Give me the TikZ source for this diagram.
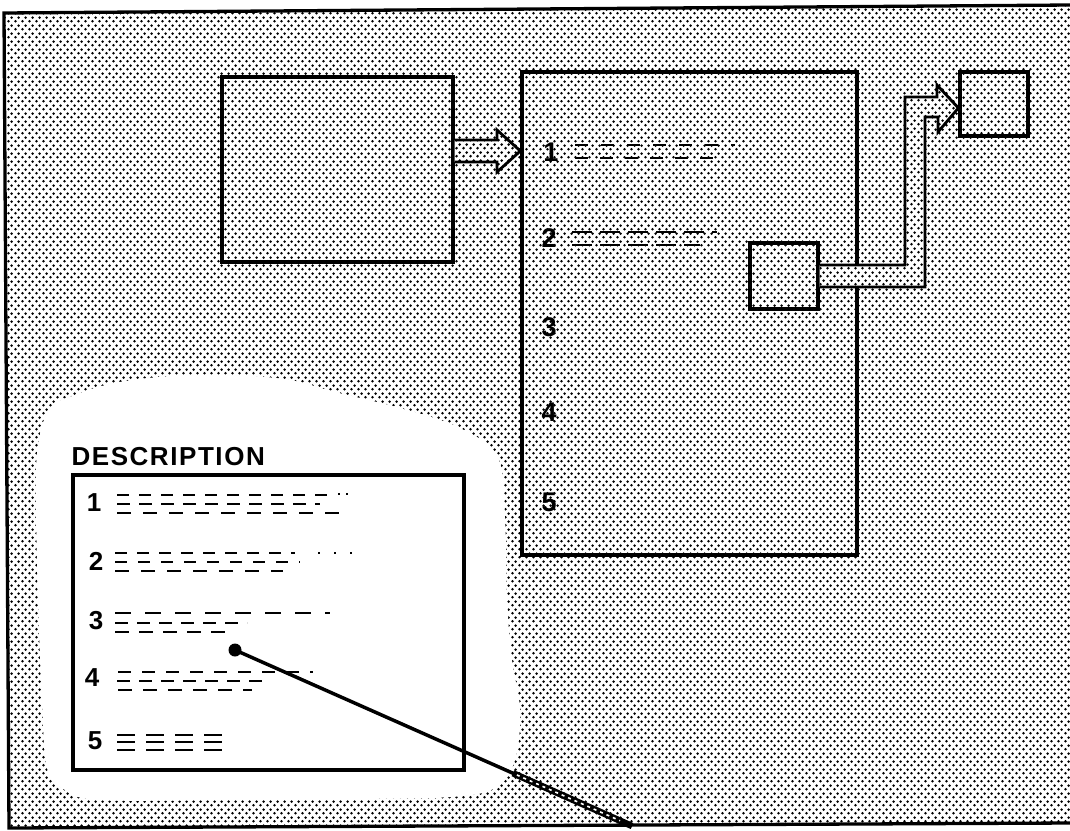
\documentclass[tikz,border=0pt]{standalone}
\usepackage{fontspec}
\setmainfont{Liberation Sans}
\newfontfamily\descfont[LetterSpace=6]{Liberation Sans}
\usetikzlibrary{patterns.meta,calc}

\tikzdeclarepattern{
  name=hdots,
  type=uncolored,
  bounding box={(0pt,0pt) and (7pt,8pt)},
  tile size={(7pt,8pt)},
  code={
    \fill (1.75pt,2pt) circle (1.6pt);
    \fill (5.25pt,6pt) circle (1.6pt);
  }
}

\begin{document}
\begin{tikzpicture}[x=1pt,y=-1pt,
  box/.style={draw=black, line width=3.3pt, inner sep=0pt},
  dotted fill/.style={pattern=hdots, pattern color=black},
  blockarrow/.style={draw=black, line width=2.8pt, line join=miter, preaction={fill=white}, pattern=hdots, pattern color=black},
  dr/.style={line width=2.7pt, black},
  bignum/.style={font=\fontsize{27}{27}\selectfont\bfseries, inner sep=0pt},
  descnum/.style={font=\fontsize{26}{26}\selectfont\bfseries, inner sep=0pt},
]
\useasboundingbox (0,0) rectangle (1070,830);

% background halftone
\fill[white] (0,0) rectangle (1070,830);
\fill[dotted fill] (4,13) -- (1070,5) -- (1070,823) -- (9,828) -- cycle;
\draw[line width=3.3pt, line join=miter] (1070,5) -- (4,13) -- (9,828) -- (1070,823);

% white cloud
\fill[white] plot[smooth cycle, tension=0.6] coordinates {
 (50,408) (75,395) (110,384) (160,377) (230,375) (290,380) (335,392) (400,408)
 (460,428) (498,458) (505,520) (507,600) (512,660) (520,710) (515,760) (495,788)
 (450,797) (350,799) (220,800) (100,800) (65,790) (47,768) (42,700) (38,600)
 (36,500) (38,445)};

% boxes
\node[box, minimum width=231pt, minimum height=185pt] (A) at (337.5,169.5) {};
\node[box, minimum width=335pt, minimum height=483pt] (B) at (689.5,313.5) {};
\node[box, minimum width=68pt, minimum height=66pt] (C) at (784,276) {};
\node[box, minimum width=68pt, minimum height=64pt] (D) at (994,104) {};

% block arrow A -> B
\path[blockarrow] (A.east |- 0,140) -- (497,140) -- (497,130) -- (B.west |- 0,151)
  -- (497,172) -- (497,162) -- (A.east |- 0,162);

% bent block arrow C -> D
\path[blockarrow] (C.east |- 0,265) -- (905,265) -- (905,97) -- (937,97) -- (937,85)
  -- (D.west |- 0,108) -- (938,132) -- (938,117) -- (925,117) -- (925,287) -- (C.east |- 0,287);

% list in the big box
\node[bignum] (b1) at (551,152) {1};
\node[bignum] (b2) at (549,238) {2};
\node[bignum] (b3) at (549,327) {3};
\node[bignum] (b4) at (549,412) {4};
\node[bignum] (b5) at (549,502) {5};
\draw[dr, dash pattern=on 13pt off 13pt] (575,145) -- (735,145);
\draw[dr, dash pattern=on 13pt off 12pt] (575,158) -- (720,158);
\draw[dr, dash pattern=on 20pt off 8pt] (572,232) -- (717,232);
\draw[dr, dash pattern=on 20pt off 8pt] (572,245) -- (700,245);

% description box
\node[box, fill=white, minimum width=391pt, minimum height=295pt] (E) at (268.5,622.5) {};
\node[anchor=base west, inner sep=0pt, font=\descfont\fontsize{26}{26}\selectfont\bfseries]
  (lbl) at (E.north west |- 0,465) {DESCRIPTION};

\node[descnum] (d1) at (94,503) {1};
\node[descnum] (d2) at (96,561) {2};
\node[descnum] (d3) at (96,621) {3};
\node[descnum] (d4) at (92,678) {4};
\node[descnum] (d5) at (95,741) {5};

% item 1
\draw[dr, dash pattern=on 12pt off 10pt] (117,495) -- (330,495);
\draw[dr, dash pattern=on 2pt off 6pt] (338,494) -- (350,494);
\draw[dr, dash pattern=on 13pt off 9pt] (117,504) -- (320,504);
\draw[dr, dash pattern=on 14pt off 12pt] (117,513) -- (347,513);
% item 2
\draw[dr, dash pattern=on 12pt off 10pt] (115,553) -- (295,553);
\draw[dr, dash pattern=on 2pt off 14pt] (318,553) -- (365,553);
\draw[dr, dash pattern=on 12pt off 11pt] (115,562) -- (300,562);
\draw[dr, dash pattern=on 14pt off 12pt] (115,571) -- (283,571);
% item 3
\draw[dr, dash pattern=on 16pt off 14pt] (115,613) -- (330,613);
\draw[dr, dash pattern=on 13pt off 9pt] (115,623) -- (247,623);
\draw[dr, dash pattern=on 14pt off 10pt] (115,632) -- (230,632);
% item 4
\draw[dr, dash pattern=on 13pt off 11pt] (118,672) -- (313,672);
\draw[dr, dash pattern=on 13pt off 9pt] (117,681) -- (268,681);
\draw[dr, dash pattern=on 14pt off 11pt] (118,690) -- (252,690);
% item 5
\draw[dr, dash pattern=on 18pt off 11pt] (117,735) -- (227,735);
\draw[dr, dash pattern=on 18pt off 11pt] (117,742) -- (227,742);
\draw[dr, dash pattern=on 18pt off 11pt] (117,750) -- (227,750);

% pointer
\node[circle, fill=black, inner sep=0pt, minimum size=13pt] (pt) at (235,650) {};
\coordinate (tip) at (632,826);
\draw[line width=3.5pt] (pt.center) -- (tip);
\draw[line width=6.5pt] ($(pt.center)!0.7!(tip)$) -- (tip);
\draw[white, line width=1.6pt, dash pattern=on 3pt off 4pt] ($(pt.center)!0.71!(tip)$) -- ($(pt.center)!0.97!(tip)$);
\end{tikzpicture}
\end{document}
